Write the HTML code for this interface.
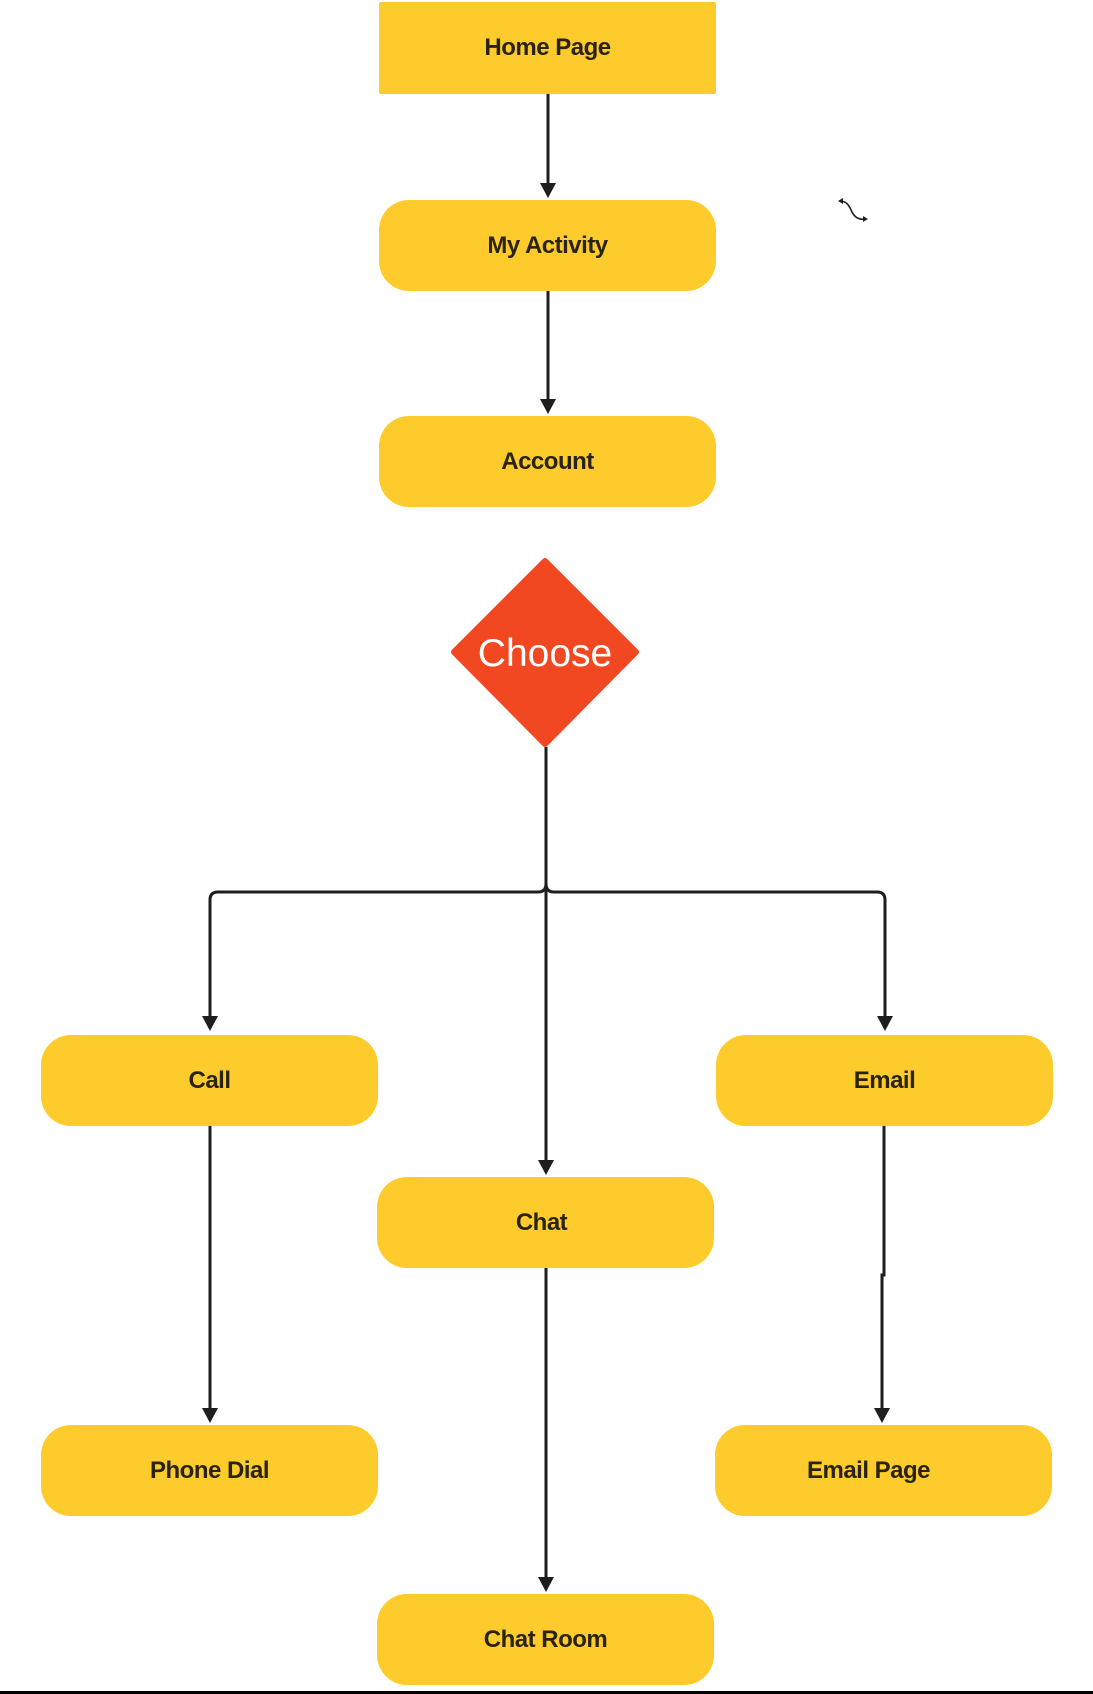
<!DOCTYPE html>
<html><head><meta charset="utf-8"><style>
html,body{margin:0;padding:0;background:#fff}
body{width:1093px;height:1694px;position:relative;overflow:hidden;font-family:"Liberation Sans",sans-serif}
.n{position:absolute;background:#FDCC2C;border-radius:30px;display:flex;align-items:center;justify-content:center;font-weight:bold;font-size:24px;color:#2a2310;letter-spacing:-0.5px}
svg{position:absolute;left:0;top:0}
</style></head><body>
<svg width="1093" height="1694" viewBox="0 0 1093 1694">
<g stroke="#1e1e1e" stroke-width="3" fill="none">
<line x1="548" y1="94" x2="548" y2="186"/>
<line x1="548" y1="291" x2="548" y2="402"/>
<line x1="546" y1="747" x2="546" y2="1163"/>
<path d="M546,884 Q546,892 538,892 L218,892 Q210,892 210,900 L210,1019"/>
<path d="M546,884 Q546,892 554,892 L877,892 Q885,892 885,900 L885,1019"/>
<line x1="210" y1="1126" x2="210" y2="1411"/>
<path d="M884,1126 L884,1275 L882,1275 L882,1411"/>
<line x1="546" y1="1268" x2="546" y2="1580"/>
</g>
<g fill="#1e1e1e">
<path d="M540,183 L556,183 L548,198 Z"/>
<path d="M540,399 L556,399 L548,414 Z"/>
<path d="M202,1016 L218,1016 L210,1031 Z"/>
<path d="M877,1016 L893,1016 L885,1031 Z"/>
<path d="M538,1160 L554,1160 L546,1175 Z"/>
<path d="M202,1408 L218,1408 L210,1423 Z"/>
<path d="M874,1408 L890,1408 L882,1423 Z"/>
<path d="M538,1577 L554,1577 L546,1592 Z"/>
</g>
<path d="M545,561 L636,652 L545,744 L454,652 Z" fill="#F24822" stroke="#F24822" stroke-width="6" stroke-linejoin="round"/>
<text x="545" y="666" font-family="Liberation Sans, sans-serif" font-size="39" fill="#fff" text-anchor="middle">Choose</text>
<path d="M840,201 C848,201 850,208 852,212 C855,218 860,220 866,219" stroke="#1e1e1e" stroke-width="1.6" fill="none"/>
<path d="M838,201 L843,198 L843,204 Z M868,219 L863,216 L863,222 Z" fill="#1e1e1e"/>
<line x1="0" y1="1692.5" x2="1093" y2="1692.5" stroke="#000" stroke-width="3"/>
</svg>
<div class="n" style="left:379px;top:2px;width:337px;height:92px;border-radius:2px">Home Page</div>
<div class="n" style="left:379px;top:200px;width:337px;height:91px">My Activity</div>
<div class="n" style="left:379px;top:416px;width:337px;height:91px">Account</div>
<div class="n" style="left:41px;top:1035px;width:337px;height:91px">Call</div>
<div class="n" style="left:716px;top:1035px;width:337px;height:91px">Email</div>
<div class="n" style="left:377px;top:1177px;width:337px;height:91px;padding-right:8px;box-sizing:border-box">Chat</div>
<div class="n" style="left:41px;top:1425px;width:337px;height:91px">Phone Dial</div>
<div class="n" style="left:715px;top:1425px;width:337px;height:91px;padding-right:30px;box-sizing:border-box">Email Page</div>
<div class="n" style="left:377px;top:1594px;width:337px;height:91px">Chat Room</div>
</body></html>
